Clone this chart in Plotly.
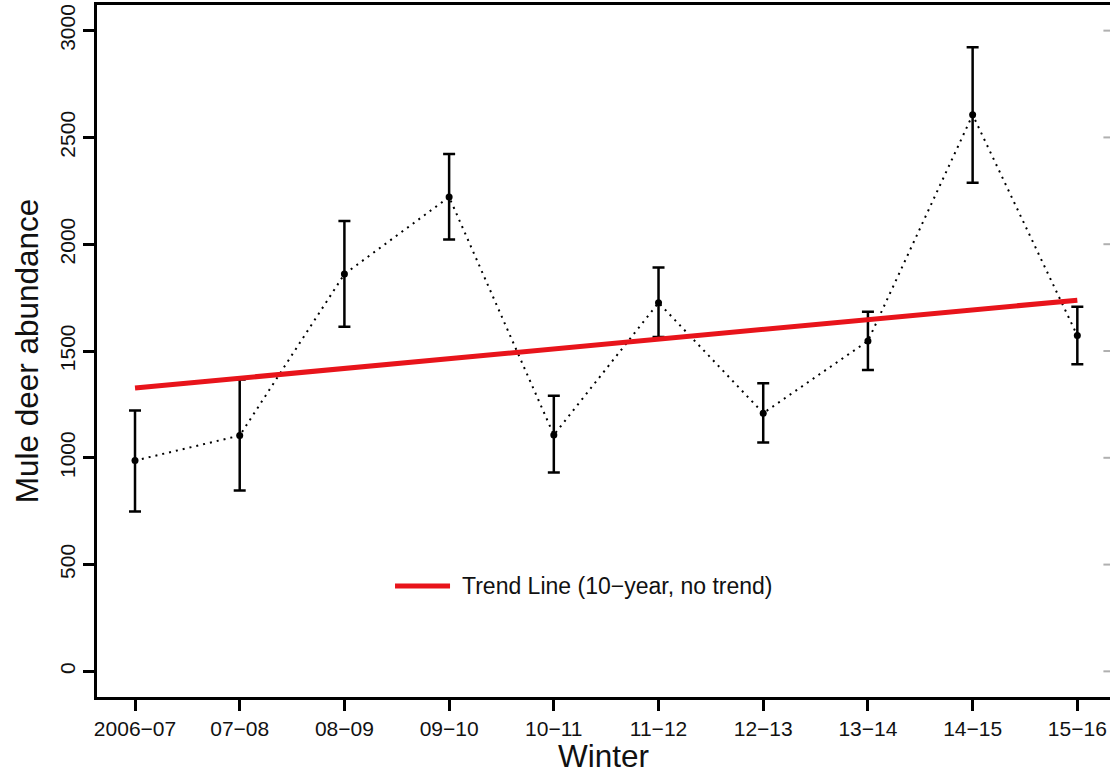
import plotly.graph_objects as go

# Winter survey seasons and mule deer abundance estimates with interval bounds
winters = ["2006−07", "07−08", "08−09", "09−10", "10−11",
           "11−12", "12−13", "13−14", "14−15", "15−16"]
abundance = [987, 1104, 1860, 2221, 1107, 1726, 1209, 1547, 2606, 1572]
lower = [749, 847, 1614, 2022, 931, 1565, 1072, 1411, 2288, 1438]
upper = [1221, 1366, 2109, 2422, 1290, 1891, 1349, 1684, 2922, 1707]

# Fitted 10-year trend line, value at first and last winter
trend_values = [1327, 1738]

y_ticks = [0, 500, 1000, 1500, 2000, 2500, 3000]

x_pos = list(range(1, len(winters) + 1))
err_plus = [u - a for u, a in zip(upper, abundance)]
err_minus = [a - l for a, l in zip(abundance, lower)]

FONT = "Liberation Sans, Arial, Helvetica, sans-serif"

fig = go.Figure()

fig.add_trace(go.Scatter(
    x=x_pos, y=abundance,
    mode="lines+markers",
    line=dict(color="black", width=2, dash="2px,5px"),
    marker=dict(color="black", size=7),
    error_y=dict(type="data", symmetric=False,
                 array=err_plus, arrayminus=err_minus,
                 color="black", thickness=2.5, width=6),
    showlegend=False,
    hoverinfo="skip",
))

fig.add_trace(go.Scatter(
    x=[x_pos[0], x_pos[-1]], y=trend_values,
    mode="lines",
    line=dict(color="#e8141b", width=5),
    showlegend=False,
    hoverinfo="skip",
))

shapes = []
# faint tick marks along the right edge
for v in y_ticks:
    shapes.append(dict(type="line", xref="paper", yref="y",
                       x0=0.9935, x1=1.0, y0=v, y1=v,
                       line=dict(color="#b0b0b0", width=2)))
# legend key
shapes.append(dict(type="line", xref="paper", yref="paper",
                   x0=0.2942, x1=0.3485, y0=0.1604, y1=0.1604,
                   line=dict(color="#e8141b", width=5)))

fig.update_layout(
    width=1110, height=774,
    margin=dict(l=97, r=0, t=5, b=77),
    paper_bgcolor="white", plot_bgcolor="white",
    font=dict(family=FONT, color="#111111"),
    shapes=shapes,
    annotations=[dict(xref="paper", yref="paper", x=0.3583, y=0.1604,
                      xanchor="left", yanchor="middle", showarrow=False,
                      text="Trend Line (10−year, no trend)",
                      font=dict(size=23, family=FONT, color="#111111"))],
    xaxis=dict(
        range=[0.637, 10.312],
        tickmode="array", tickvals=x_pos, ticktext=winters,
        tickfont=dict(size=21),
        ticks="outside", ticklen=11, tickwidth=2.5, tickcolor="black",
        showline=True, linecolor="black", linewidth=2.5, mirror=True,
        showgrid=False, zeroline=False,
        title=dict(text="Winter", font=dict(size=31.5), standoff=6),
    ),
    yaxis=dict(
        range=[-120, 3120],
        tickmode="array", tickvals=y_ticks,
        ticktext=[str(v) for v in y_ticks],
        tickangle=-90,
        tickfont=dict(size=21),
        ticks="outside", ticklen=11, tickwidth=2.5, tickcolor="black",
        showline=True, linecolor="black", linewidth=2.5,
        showgrid=False, zeroline=False,
        title=dict(text="Mule deer abundance", font=dict(size=31.5), standoff=8),
    ),
)

fig.write_html("out.html")
